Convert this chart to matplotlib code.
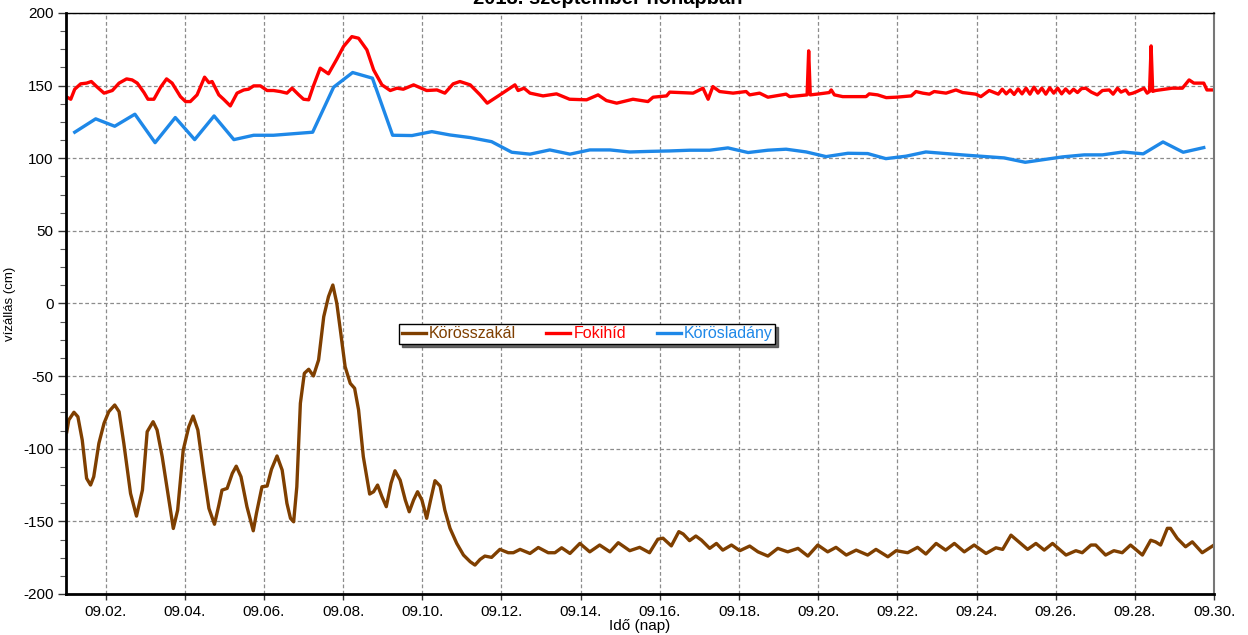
import matplotlib
matplotlib.use("Agg")
import matplotlib.pyplot as plt
from matplotlib.ticker import MultipleLocator

plt.rcParams['font.family'] = ['Liberation Sans', 'DejaVu Sans']
plt.rcParams['axes.unicode_minus'] = False

# idő: szeptember napja (tört nap), érték: vízállás cm
szakal_t = [1.02, 1.07, 1.20, 1.30, 1.41, 1.52, 1.62, 1.70, 1.83, 1.96, 2.08, 2.23, 2.34, 2.46,
            2.63, 2.78, 2.93, 3.05, 3.20, 3.30, 3.43, 3.56, 3.71, 3.82, 3.96, 4.10, 4.21, 4.33,
            4.48, 4.61, 4.75, 4.86, 4.94, 5.07, 5.20, 5.30, 5.42, 5.57, 5.73, 5.81, 5.95, 6.08,
            6.19, 6.33, 6.46, 6.58, 6.67, 6.75, 6.83, 6.92, 7.02, 7.13, 7.25, 7.38, 7.51, 7.63,
            7.74, 7.84, 7.93, 8.05, 8.18, 8.29, 8.39, 8.51, 8.67, 8.77, 8.87, 8.98, 9.09, 9.21,
            9.31, 9.44, 9.57, 9.67, 9.78, 9.88, 9.99, 10.11, 10.21, 10.32, 10.45, 10.57, 10.70,
            10.87, 11.04, 11.21, 11.33, 11.46, 11.58, 11.75, 11.96, 12.17, 12.30, 12.47, 12.72,
            12.93, 13.18, 13.35, 13.52, 13.73, 13.98, 14.23, 14.48, 14.74, 14.95, 15.24, 15.49,
            15.74, 15.95, 16.08, 16.29, 16.48, 16.59, 16.75, 16.91, 17.05, 17.26, 17.43, 17.59,
            17.81, 18.02, 18.27, 18.48, 18.73, 18.98, 19.23, 19.49, 19.74, 19.99, 20.24, 20.45,
            20.71, 20.96, 21.25, 21.46, 21.76, 21.97, 22.26, 22.51, 22.72, 22.98, 23.22, 23.44,
            23.69, 23.94, 24.24, 24.49, 24.66, 24.87, 25.16, 25.29, 25.50, 25.71, 25.92, 26.26,
            26.51, 26.67, 26.89, 27.01, 27.26, 27.47, 27.68, 27.89, 28.19, 28.40, 28.52, 28.65,
            28.82, 28.90, 29.07, 29.28, 29.45, 29.70, 29.96]
szakal_v = [-88.3, -80.2, -74.9, -78.0, -94.1, -120.4, -125.0, -119.3, -96.3, -82.5, -74.5, -69.9,
            -74.5, -96.3, -130.8, -146.4, -128.5, -88.3, -81.4, -87.1, -105.5, -128.5, -154.9,
            -142.3, -101.0, -85.0, -77.5, -87.1, -117.0, -141.1, -152.0, -138.9, -128.5, -127.3,
            -117.0, -112.0, -119.3, -139.9, -156.5, -144.5, -126.2, -125.7, -114.2, -105.0,
            -114.7, -137.6, -147.9, -150.3, -126.2, -68.7, -48.1, -45.3, -49.9, -38.9, -9.1,
            4.7, 12.7, 0.1, -18.3, -43.5, -55.0, -58.4, -73.3, -105.5, -131.2, -129.6, -125.0,
            -133.0, -139.9, -123.8, -115.2, -121.6, -135.3, -143.4, -135.3, -129.6, -135.3,
            -147.9, -135.3, -122.0, -125.7, -142.3, -154.8, -165.2, -173.2, -177.8, -180.1,
            -176.2, -173.9, -174.8, -169.3, -171.6, -171.6, -169.3, -172.1, -168.0, -171.6,
            -171.6, -168.2, -172.1, -165.2, -171.0, -166.3, -171.0, -164.7, -170.2, -167.9,
            -171.6, -162.3, -161.6, -166.9, -157.1, -158.7, -163.3, -160.1, -162.9, -168.6,
            -165.2, -169.8, -166.3, -170.2, -167.0, -171.0, -173.9, -168.6, -171.0, -168.6,
            -173.9, -166.3, -171.0, -167.9, -173.2, -169.8, -173.2, -169.3, -174.4, -170.2,
            -171.6, -167.9, -172.5, -165.2, -169.8, -165.2, -171.0, -166.3, -172.1, -168.2,
            -169.3, -159.5, -166.3, -169.3, -165.2, -169.8, -165.2, -173.2, -170.2, -171.6,
            -166.3, -166.3, -173.2, -170.2, -171.6, -166.3, -173.2, -163.0, -164.1, -166.3,
            -154.8, -154.8, -161.7, -167.5, -164.1, -171.6, -167.0]

foki_t = [1.00, 1.12, 1.22, 1.37, 1.52, 1.64, 1.79, 1.96, 2.17, 2.34, 2.53, 2.67, 2.80, 2.97,
          3.07, 3.22, 3.39, 3.54, 3.68, 3.89, 4.02, 4.14, 4.31, 4.50, 4.61, 4.69, 4.86, 4.98,
          5.15, 5.32, 5.49, 5.61, 5.74, 5.91, 6.08, 6.24, 6.41, 6.58, 6.71, 6.88, 7.00, 7.13,
          7.25, 7.42, 7.63, 7.84, 8.01, 8.22, 8.39, 8.60, 8.77, 8.98, 9.19, 9.36, 9.52, 9.78,
          10.11, 10.37, 10.57, 10.78, 10.95, 11.21, 11.46, 11.64, 11.96, 12.34, 12.42, 12.57,
          12.72, 13.05, 13.39, 13.72, 14.15, 14.44, 14.65, 14.91, 15.32, 15.70, 15.83, 16.17,
          16.25, 16.84, 17.09, 17.22, 17.34, 17.51, 17.85, 18.18, 18.27, 18.52, 18.73, 19.19,
          19.28, 19.72, 19.76, 19.80, 20.03, 20.28, 20.33, 20.41, 20.62, 21.21, 21.29, 21.50,
          21.72, 21.97, 22.35, 22.47, 22.64, 22.81, 22.93, 23.23, 23.48, 23.65, 23.98, 24.11,
          24.32, 24.45, 24.55, 24.65, 24.75, 24.85, 24.95, 25.05, 25.15, 25.25, 25.35, 25.45,
          25.55, 25.65, 25.75, 25.85, 25.95, 26.05, 26.15, 26.25, 26.35, 26.45, 26.55, 26.65,
          26.76, 26.90, 27.05, 27.18, 27.35, 27.45, 27.56, 27.65, 27.77, 27.85, 27.95, 28.05,
          28.23, 28.31, 28.37, 28.41, 28.45, 28.52, 28.75, 28.94, 29.20, 29.37, 29.49, 29.74,
          29.82, 29.98]
foki_v = [142.4, 140.6, 147.5, 151.2, 151.7, 152.8, 148.9, 144.8, 146.6, 151.7, 154.6, 153.9,
          151.7, 145.2, 140.6, 140.6, 148.9, 154.6, 151.7, 142.4, 139.0, 139.0, 143.6, 155.8,
          152.0, 152.8, 143.6, 140.6, 136.0, 144.8, 147.0, 147.5, 149.8, 149.8, 146.6, 146.6,
          145.9, 144.8, 148.2, 143.6, 140.6, 140.2, 149.8, 162.0, 158.1, 168.2, 176.9, 183.7,
          182.6, 174.6, 160.8, 150.5, 146.6, 148.2, 147.5, 150.5, 146.6, 147.0, 144.8, 151.2,
          152.8, 150.5, 143.6, 137.9, 143.6, 150.5, 146.6, 148.2, 144.8, 142.9, 144.3, 140.6,
          140.2, 143.6, 139.7, 137.9, 140.6, 139.0, 142.0, 142.9, 145.5, 144.8, 148.2, 140.6,
          149.3, 145.9, 144.8, 145.9, 143.6, 144.8, 142.0, 144.1, 142.4, 143.6, 173.9, 143.6,
          144.3, 145.2, 147.0, 143.6, 142.4, 142.4, 144.3, 143.6, 141.7, 142.0, 142.9, 145.9,
          144.8, 144.1, 145.9, 144.8, 147.0, 145.2, 144.1, 142.4, 146.6, 145.2, 144.1, 147.5,
          144.3, 147.0, 143.9, 147.7, 144.3, 148.2, 144.1, 148.9, 144.8, 148.2, 144.1, 148.5,
          144.8, 148.2, 144.3, 147.7, 144.8, 147.5, 145.2, 147.9, 148.2, 145.5, 143.6, 146.6,
          147.0, 144.1, 148.2, 145.5, 147.0, 144.1, 144.8, 145.9, 148.2, 144.8, 146.0, 177.3,
          146.0, 146.6, 147.5, 148.2, 148.2, 153.9, 151.7, 151.7, 147.0, 147.0]

ladany_t = [1.22, 1.75, 2.23, 2.74, 3.25, 3.76, 4.25, 4.74, 5.24, 5.74, 6.24, 7.23, 7.76, 8.24,
            8.74, 9.25, 9.74, 10.24, 10.70, 11.21, 11.75, 12.26, 12.72, 13.22, 13.73, 14.23,
            14.74, 15.24, 15.74, 16.25, 16.75, 17.26, 17.72, 18.23, 18.73, 19.19, 19.70, 20.20,
            20.75, 21.25, 21.71, 22.22, 22.72, 23.73, 24.70, 25.23, 26.17, 26.72, 27.18, 27.70,
            28.21, 28.71, 29.22, 29.74]
ladany_v = [117.9, 127.1, 122.0, 130.3, 110.7, 128.0, 112.8, 129.1, 112.8, 115.8, 115.8, 117.9,
            148.9, 159.0, 155.1, 115.8, 115.6, 118.3, 116.0, 114.2, 111.4, 104.1, 102.8, 105.7,
            102.8, 105.7, 105.7, 104.3, 104.7, 105.0, 105.5, 105.5, 107.1, 103.9, 105.5, 106.2,
            104.3, 101.1, 103.4, 103.2, 99.7, 101.4, 104.3, 102.1, 100.2, 97.2, 100.9, 102.3,
            102.3, 104.3, 103.0, 111.2, 104.1, 107.3]

tick_days = [2, 4, 6, 8, 10, 12, 14, 16, 18, 20, 22, 24, 26, 28, 30]
tick_labels = ['09.02.', '09.04.', '09.06.', '09.08.', '09.10.', '09.12.', '09.14.', '09.16.',
               '09.18.', '09.20.', '09.22.', '09.24.', '09.26.', '09.28.', '09.30.']

brown = '#7f3f00'
red = '#ff0000'
blue = '#1e88e8'

fig = plt.figure(figsize=(12.48, 6.35), dpi=100)
ax = fig.add_axes([0.0529, 0.0646, 0.9199, 0.915])

ax.plot(szakal_t, szakal_v, color=brown, lw=2.4, label='Körösszakál')
ax.plot(foki_t, foki_v, color=red, lw=2.4, label='Fokihíd')
ax.plot(ladany_t, ladany_v, color=blue, lw=2.4, label='Körösladány')

ax.set_xlim(1, 30)
ax.set_ylim(-200, 200)
ax.set_xticks(tick_days)
ax.set_xticklabels(tick_labels)
ax.yaxis.set_major_locator(MultipleLocator(50))
ax.yaxis.set_minor_locator(MultipleLocator(12.5))
ax.tick_params(axis='both', labelsize=11, color='#333333')
ax.tick_params(axis='y', which='major', length=6, width=1, pad=3)
ax.tick_params(axis='y', which='minor', length=4, width=0.8, color='#555555')
ax.tick_params(axis='x', length=4, width=1, pad=4)
ax.grid(True, color='#8c8c8c', linestyle=(0, (3, 2)), linewidth=0.9)

for side in ['left', 'bottom']:
    ax.spines[side].set_linewidth(2.0)
    ax.spines[side].set_color('black')
ax.spines['top'].set_linewidth(1.0)
ax.spines['right'].set_linewidth(1.5)
ax.spines['right'].set_color('#777777')

ax.set_xlabel('Idő (nap)', fontsize=11, labelpad=0)
ax.set_ylabel('vízállás (cm)', fontsize=9.5)
ax.yaxis.set_label_coords(-0.044, 0.5)

leg = ax.legend(loc='center', bbox_to_anchor=(0.454, 0.4475), ncol=3, fontsize=11.5,
                frameon=True, fancybox=False, shadow={'color': '#444444', 'alpha': 0.8},
                handlelength=1.5, handletextpad=0.2, columnspacing=1.9, borderpad=0.15,
                borderaxespad=0)
leg.get_frame().set_edgecolor('black')
leg.get_frame().set_linewidth(1.0)
for txt, col in zip(leg.get_texts(), [brown, red, blue]):
    txt.set_color(col)

fig.text(0.487, 1 - 4 / 635, '2018. szeptember hónapban', ha='center', va='baseline',
         fontsize=14.5, fontweight='bold')

fig.savefig('out.png', dpi=100)
